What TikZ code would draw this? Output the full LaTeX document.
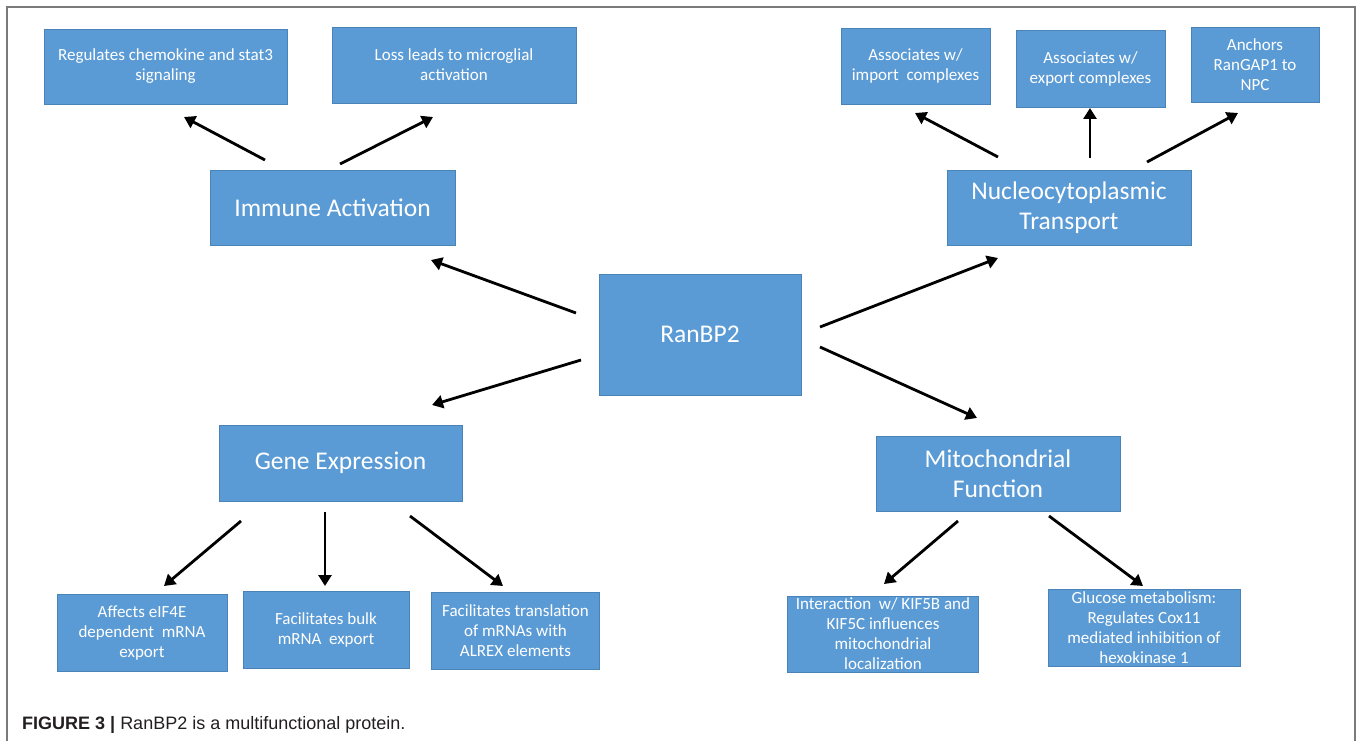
\documentclass[tikz,border=0pt]{standalone}
\usepackage{fontspec}
\setmainfont{Carlito}
\newfontfamily\capfont{Liberation Sans}
\usetikzlibrary{arrows.meta}
\definecolor{boxfill}{HTML}{5B9BD5}
\definecolor{boxline}{HTML}{4A83B8}
\definecolor{framegray}{HTML}{7A7A7A}
\definecolor{captext}{HTML}{231F20}
\tikzset{
  box/.style={draw=boxline, line width=0.8pt, fill=boxfill, text=white, align=center, inner sep=0pt, anchor=center},
  smallbox/.style={box, font=\fontsize{17}{20}\selectfont},
  bigbox/.style={box, font=\fontsize{25.5}{30}\selectfont},
  arr/.style={line width=2.8pt, -{Triangle[length=11pt,width=13pt]}},
}
\begin{document}
\begin{tikzpicture}[x=1pt,y=-1pt]
\useasboundingbox (0,0) rectangle (1360,741);
\fill[white] (0,0) rectangle (1360,741);
\draw[framegray, line width=1.8pt] (7,741) -- (7,7) -- (1355,7) -- (1355,741);

% main nodes
\node[bigbox, minimum width=202pt, minimum height=121pt] (ran) at (700,334.5) {RanBP2};
\node[bigbox, minimum width=245pt, minimum height=75pt] (imm) at (332.5,207.5) {Immune Activation};
\node[bigbox, minimum width=244pt, minimum height=75pt] (nuc) at (1069,207.5) {Nucleocytoplasmic\\Transport};
\node[bigbox, minimum width=243pt, minimum height=76pt] (gene) at (340.5,463) {Gene Expression};
\node[bigbox, minimum width=244pt, minimum height=75pt] (mito) at (998,473.5) {Mitochondrial\\Function};

% leaves
\node[smallbox, minimum width=243pt, minimum height=75pt] (chem) at (165.5,66.5) {Regulates chemokine and stat3\\signaling};
\node[smallbox, minimum width=244pt, minimum height=76pt] (loss) at (454,65) {Loss leads to microglial\\activation};
\node[smallbox, minimum width=149pt, minimum height=76pt] (imp) at (915.5,66) {Associates w/\\import\ \ complexes};
\node[smallbox, minimum width=149pt, minimum height=77pt] (exp) at (1090.5,68.5) {Associates w/\\export complexes};
\node[smallbox, minimum width=128pt, minimum height=75pt] (anc) at (1255,64.5) {Anchors\\RanGAP1 to\\NPC};
\node[smallbox, minimum width=170pt, minimum height=77pt] (aff) at (142,632.5) {Affects eIF4E\\dependent\ \ mRNA\\export};
\node[smallbox, minimum width=166pt, minimum height=77pt] (bulk) at (326,629.5) {Facilitates bulk\\mRNA\ \ export};
\node[smallbox, minimum width=168pt, minimum height=77pt] (tra) at (515.5,630.5) {Facilitates translation\\of mRNAs with\\ALREX elements};
\node[smallbox, minimum width=191pt, minimum height=76pt] (kif) at (883,634) {Interaction\ \ w/ KIF5B and\\KIF5C influences\\mitochondrial\\localization};
\node[smallbox, minimum width=192pt, minimum height=77pt] (glu) at (1144,627.5) {Glucose metabolism:\\Regulates Cox11\\mediated inhibition of\\hexokinase 1};

% connector end points
\coordinate (imm-chem-s) at (265,160);  \coordinate (imm-chem-e) at (184,117);
\coordinate (imm-loss-s) at (340,164);  \coordinate (imm-loss-e) at (433,117);
\coordinate (ran-imm-s) at (576,313);   \coordinate (ran-imm-e) at (431,260);
\coordinate (ran-gene-s) at (581,360);  \coordinate (ran-gene-e) at (432,405);
\coordinate (ran-nuc-s) at (820,327);   \coordinate (ran-nuc-e) at (998,258);
\coordinate (ran-mito-s) at (820,347);  \coordinate (ran-mito-e) at (977,418);
\coordinate (nuc-imp-s) at (998,157);   \coordinate (nuc-imp-e) at (915,113);
\coordinate (nuc-exp-s) at (1090,158);  \coordinate (nuc-exp-e) at (1090,108);
\coordinate (nuc-anc-s) at (1147,162);  \coordinate (nuc-anc-e) at (1238,113);
\coordinate (gene-aff-s) at (241,521);  \coordinate (gene-aff-e) at (164,586);
\coordinate (gene-bulk-s) at (325,512); \coordinate (gene-bulk-e) at (325,586);
\coordinate (gene-tra-s) at (410,516);  \coordinate (gene-tra-e) at (503,586);
\coordinate (mito-kif-s) at (958,521);  \coordinate (mito-kif-e) at (884,584);
\coordinate (mito-glu-s) at (1049,516); \coordinate (mito-glu-e) at (1143,586);

\foreach \c in {imm-chem,imm-loss,ran-imm,ran-gene,ran-nuc,ran-mito,nuc-imp,nuc-exp,nuc-anc,gene-aff,gene-bulk,gene-tra,mito-kif,mito-glu}
  \draw[arr] (\c-s) -- (\c-e);

% caption
\node[anchor=base west, inner sep=0pt, text=captext, font=\capfont\fontsize{18}{20}\selectfont] (cap) at (22,729)
  {\textbf{FIGURE 3 |} RanBP2 is a multifunctional protein.};
\end{tikzpicture}
\end{document}
